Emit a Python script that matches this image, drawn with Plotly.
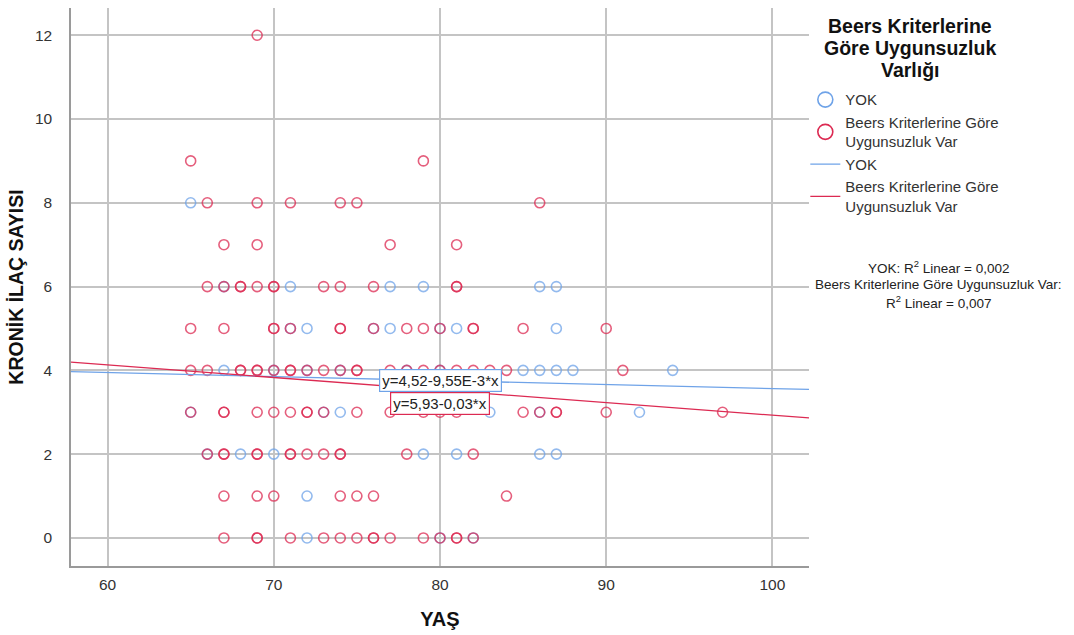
import numpy as np
import plotly.graph_objects as go

# Age (YAŞ) and chronic medication count per patient, by group
yok_age = [65,
           67, 71, 77, 79, 86, 87,
           71, 72, 76, 77, 80, 81, 87,
           67, 70, 72, 74, 78, 80, 85, 86, 87, 88, 94,
           65, 73, 74, 83, 86, 92,
           66, 68, 70, 79, 81, 86, 87,
           72,
           72, 80, 82]
yok_ilac = [8,
            6, 6, 6, 6, 6, 6,
            5, 5, 5, 5, 5, 5, 5,
            4, 4, 4, 4, 4, 4, 4, 4, 4, 4, 4,
            3, 3, 3, 3, 3, 3,
            2, 2, 2, 2, 2, 2, 2,
            1,
            0, 0, 0]

var_age = [69,
           65, 79,
           66, 69, 71, 74, 75, 86,
           67, 69, 77, 81,
           66, 67, 68, 68, 69, 70, 70, 73, 74, 76, 81, 81,
           65, 67, 70, 70, 71, 74, 74, 76, 78, 79, 80, 82, 82, 85, 90,
           65, 66, 68, 68, 69, 69, 70, 71, 71, 72, 73, 74, 75, 75, 77, 78, 79, 80, 81, 82, 83, 84, 91,
           65, 67, 67, 69, 70, 71, 72, 72, 73, 75, 77, 79, 80, 81, 85, 86, 87, 87, 90, 97,
           66, 67, 67, 69, 69, 71, 71, 72, 73, 74, 74, 78, 82,
           67, 69, 70, 74, 75, 76, 84,
           67, 69, 69, 71, 73, 74, 75, 76, 76, 77, 79, 80, 81, 81, 82]
var_ilac = [12,
            9, 9,
            8, 8, 8, 8, 8, 8,
            7, 7, 7, 7,
            6, 6, 6, 6, 6, 6, 6, 6, 6, 6, 6, 6,
            5, 5, 5, 5, 5, 5, 5, 5, 5, 5, 5, 5, 5, 5, 5,
            4, 4, 4, 4, 4, 4, 4, 4, 4, 4, 4, 4, 4, 4, 4, 4, 4, 4, 4, 4, 4, 4, 4,
            3, 3, 3, 3, 3, 3, 3, 3, 3, 3, 3, 3, 3, 3, 3, 3, 3, 3, 3, 3,
            2, 2, 2, 2, 2, 2, 2, 2, 2, 2, 2, 2, 2,
            1, 1, 1, 1, 1, 1, 1,
            0, 0, 0, 0, 0, 0, 0, 0, 0, 0, 0, 0, 0, 0, 0]

# Linear fits (intercept, slope) as reported on the chart
yok_fit = (4.52, -9.55e-3)
var_fit = (5.93, -0.03)

group_names = ["YOK", "Beers Kriterlerine Göre<br>Uygunsuzluk Var"]
legend_heading = ["Beers Kriterlerine", "Göre Uygunsuzluk", "Varlığı"]
r2_lines = ["YOK: R<sup>2</sup> Linear = 0,002",
            "Beers Kriterlerine Göre Uygunsuzluk Var:",
            "R<sup>2</sup> Linear = 0,007"]
x_ticks = [60, 70, 80, 90, 100]
y_ticks = [0, 2, 4, 6, 8, 10, 12]
x_range = [57.8, 102.2]
y_range = [-0.67, 12.65]

BLUE = "#6fa3e8"
RED = "#dc2a52"
FONT = "Liberation Sans, Arial, sans-serif"

fig = go.Figure()

# scatter points
for ages, vals, col in [(yok_age, yok_ilac, BLUE), (var_age, var_ilac, RED)]:
    fig.add_trace(go.Scatter(
        x=ages, y=vals, mode="markers", showlegend=False, hoverinfo="x+y",
        marker=dict(symbol="circle-open", size=10, color=col, opacity=0.75,
                    line=dict(width=1.6, color=col)),
    ))

# legend entries for the point symbols
for name, col in zip(group_names, [BLUE, RED]):
    fig.add_trace(go.Scatter(
        x=[None], y=[None], mode="markers", name=name,
        marker=dict(symbol="circle-open", size=15, color=col,
                    line=dict(width=1.6, color=col)),
    ))

# fit lines across the full axis range
xs = np.array(x_range)
for (b0, b1), name, col in zip([yok_fit, var_fit], group_names, [BLUE, RED]):
    fig.add_trace(go.Scatter(
        x=xs, y=b0 + b1 * xs, mode="lines", name=name,
        line=dict(color=col, width=1.3), hoverinfo="skip",
    ))

# equation labels
for (b0, b1), txt, col, yy in [
    (yok_fit, "y=4,52-9,55E-3*x", BLUE, 3.77),
    (var_fit, "y=5,93-0,03*x", RED, 3.20),
]:
    fig.add_annotation(x=80, y=yy, xref="x", yref="y", text=txt, showarrow=False,
                       font=dict(family=FONT, size=15, color="#222"),
                       bgcolor="white", bordercolor=col, borderwidth=1.2, borderpad=2)

# legend heading, one line per annotation for tight spacing
for i, line in enumerate(legend_heading):
    fig.add_annotation(
        x=1.137, y=0.967 - i * 0.0395, xref="paper", yref="paper",
        xanchor="center", yanchor="middle", showarrow=False,
        text=f"<b>{line}</b>", font=dict(family=FONT, size=19.5, color="#111"),
    )

# fit statistics
for i, line in enumerate(r2_lines):
    fig.add_annotation(
        x=1.176, y=0.535 - i * 0.031, xref="paper", yref="paper",
        xanchor="center", yanchor="middle", showarrow=False,
        text=line, font=dict(family=FONT, size=13.5, color="#222"),
    )

fig.update_layout(
    width=1074, height=635,
    margin=dict(l=71, r=265, t=8, b=69),
    paper_bgcolor="white", plot_bgcolor="white",
    font=dict(family=FONT, color="#222"),
    legend=dict(
        x=0.995, y=0.865, xanchor="left", yanchor="top",
        font=dict(size=15, color="#333"), tracegroupgap=0,
        itemwidth=30, bgcolor="rgba(0,0,0,0)",
    ),
    xaxis=dict(
        range=x_range, tickvals=x_ticks, ticktext=[str(t) for t in x_ticks],
        showgrid=True, gridcolor="#c4c4c4", gridwidth=1.5,
        showline=True, linecolor="#9a9a9a", linewidth=1.5, zeroline=False,
        ticks="", tickfont=dict(size=15.5, color="#333"), ticklabelstandoff=4,
        title=dict(text="<b>YAŞ</b>", font=dict(size=20, color="#111"), standoff=20),
    ),
    yaxis=dict(
        range=y_range, tickvals=y_ticks, ticktext=[str(t) for t in y_ticks],
        showgrid=True, gridcolor="#c4c4c4", gridwidth=1.5,
        showline=True, linecolor="#9a9a9a", linewidth=1.5, zeroline=False,
        ticks="", tickfont=dict(size=15.5, color="#333"), ticklabelstandoff=14,
        title=dict(text="<b>KRONİK İLAÇ SAYISI</b>", font=dict(size=19.5, color="#111"), standoff=6),
    ),
)

fig.write_html("out.html")
